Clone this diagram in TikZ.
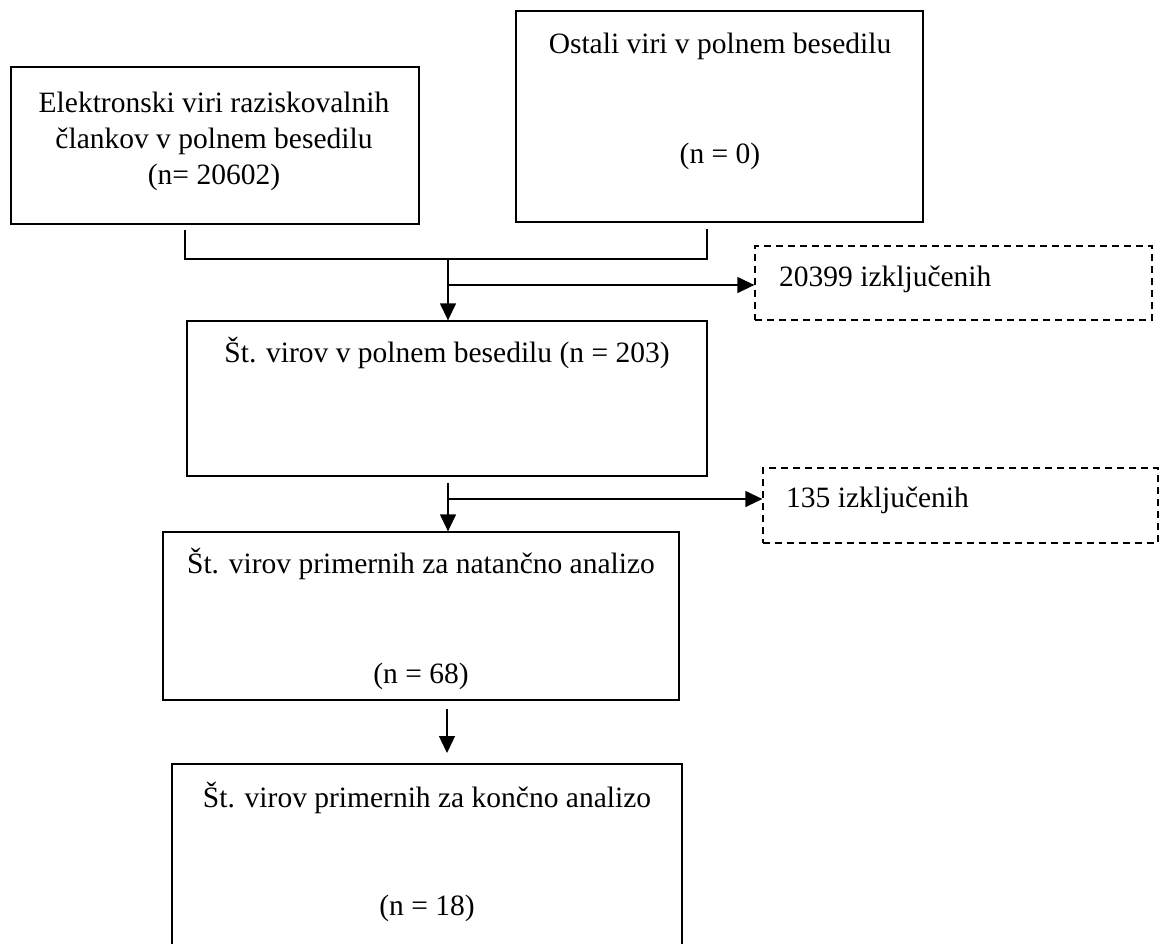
\documentclass[tikz,border=0pt]{standalone}
\usepackage{fontspec}
\setmainfont{Liberation Serif}
\usepackage{tikz}
\usetikzlibrary{arrows.meta}

\begin{document}
\begin{tikzpicture}[x=1pt,y=-1pt,
    box/.style={draw, line width=1.3pt, inner sep=0pt},
    exbox/.style={box, dash pattern=on 7pt off 5pt},
    txt/.style={anchor=base, inner sep=0pt, font=\fontsize{29.5}{36}\selectfont},
    txtl/.style={txt, anchor=base west},
    flow/.style={line width=1.3pt, -{Triangle[length=17pt,width=16pt]}}]
      \clip (0,0) rectangle (1159,943);
      % boxes
      \node (elektronski) at (215,145.5) [box, minimum width=408pt, minimum height=157pt] {};
      \node (ostali) at (719.5,116.5) [box, minimum width=407pt, minimum height=211pt] {};
      \node (stVirov) at (447,398.5) [box, minimum width=520pt, minimum height=155pt] {};
      \node (izkljuceni1) at (953.5,283) [exbox, minimum width=397pt, minimum height=74pt] {};
      \node (natancno) at (421,616) [box, minimum width=516pt, minimum height=168pt] {};
      \node (izkljuceni2) at (960.5,505.5) [exbox, minimum width=395pt, minimum height=75pt] {};
      \node (koncno) at (427,862) [box, minimum width=510pt, minimum height=196pt] {};
      % texts
      \node (elektronskiT1) at (214,112) [txt] {Elektronski viri raziskovalnih};
      \node (elektronskiT2) at (214,148) [txt] {člankov v polnem besedilu};
      \node (elektronskiT3) at (214,184) [txt] {(n= 20602)};
      \node (ostaliT1) at (720,53) [txt] {Ostali viri v polnem besedilu};
      \node (ostaliT2) at (720,163) [txt] {(n = 0)};
      \node (stVirovT) at (447,362) [txt] {Št. virov v polnem besedilu (n = 203)};
      \node (izkljuceni1T) at (779,286) [txtl] {20399 izključenih};
      \node (natancnoT1) at (421,573) [txt] {Št. virov primernih za natančno analizo};
      \node (natancnoT2) at (421,683) [txt] {(n = 68)};
      \node (izkljuceni2T) at (786,507) [txtl] {135 izključenih};
      \node (koncnoT1) at (427,807) [txt] {Št. virov primernih za končno analizo};
      \node (koncnoT2) at (427,915) [txt] {(n = 18)};
      % connectors
      \coordinate (elektronskiOut) at (185,230);
      \coordinate (ostaliOut) at (707,229);
      \coordinate (split1) at (448,259);
      \coordinate (branch1) at (448,285);
      \coordinate (stVirovOut) at (448,483);
      \coordinate (branch2) at (448,499);
      \coordinate (natancnoOut) at (447,709);
      \coordinate (koncnoIn) at (447,753);
      \draw[line width=1.3pt] (elektronskiOut) |- (split1) -| (ostaliOut);
      \draw[flow] (split1) -- (split1 |- stVirov.north);
      \draw[flow] (branch1) -- (branch1 -| izkljuceni1.west);
      \draw[flow] (stVirovOut) -- (stVirovOut |- natancno.north);
      \draw[flow] (branch2) -- (branch2 -| izkljuceni2.west);
      \draw[flow] (natancnoOut) -- (koncnoIn);
\end{tikzpicture}
\end{document}
